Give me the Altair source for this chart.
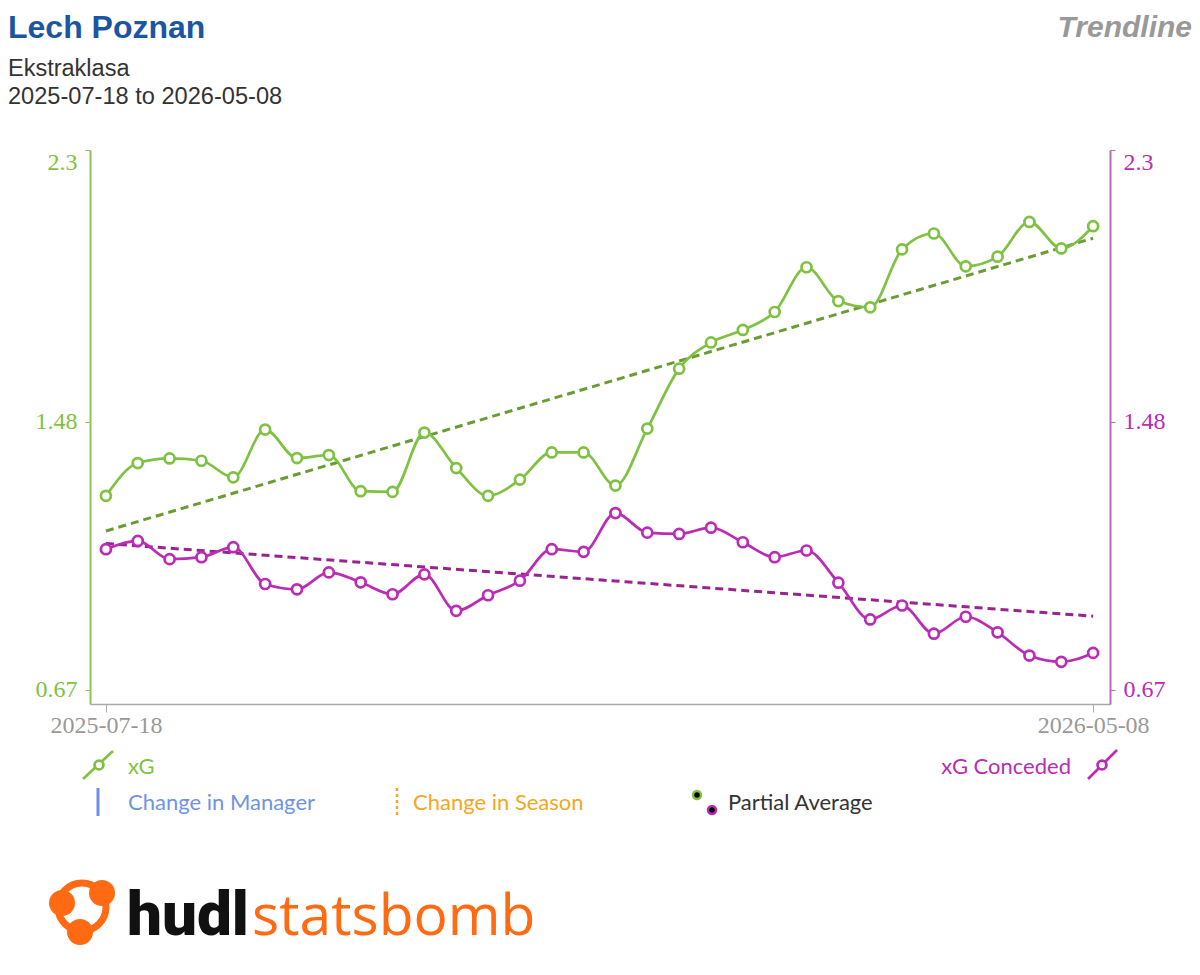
import altair as alt
import pandas as pd

# ---- data ----
match_index = list(range(32))
xg = [1.256, 1.355, 1.369, 1.362, 1.312, 1.456, 1.370, 1.379, 1.270, 1.268,
      1.447, 1.340, 1.256, 1.305, 1.387, 1.387, 1.287, 1.459, 1.640, 1.719,
      1.757, 1.811, 1.946, 1.844, 1.825, 2.000, 2.048, 1.949, 1.978, 2.083,
      2.003, 2.070]
xg_conceded = [1.095, 1.120, 1.065, 1.071, 1.101, 0.990, 0.974, 1.025, 0.995, 0.959,
               1.019, 0.909, 0.956, 1.000, 1.095, 1.087, 1.204, 1.145, 1.141, 1.160,
               1.116, 1.071, 1.091, 0.994, 0.883, 0.925, 0.840, 0.891, 0.844, 0.774,
               0.755, 0.782]
x_tick_values = [0, 31]
x_tick_labels = ["2025-07-18", "2026-05-08"]
y_tick_values = [0.67, 1.48, 2.3]
y_domain = [0.6277, 2.3]

df = pd.DataFrame({"idx": match_index, "xg": xg, "xga": xg_conceded})
one = pd.DataFrame({"k": [0]})

GREEN = "#7fc241"
GREEN_T = "#6b9b33"
MAG = "#bb2bb5"
MAG_T = "#9b2391"

# origin of plot area on the page
OX, OY = 90, 150
def px(v):
    return v - OX
def py(v):
    return v - OY

x_enc = alt.X(
    "idx:Q",
    scale=alt.Scale(domain=[-0.5, 31.53], nice=False, zero=False),
    axis=alt.Axis(
        values=x_tick_values,
        labelExpr=f"datum.value == {x_tick_values[0]} ? '{x_tick_labels[0]}' : '{x_tick_labels[1]}'",
        title=None, grid=False, domainColor="#aaaaaa", tickColor="#aaaaaa",
        tickSize=8, labelColor="#999999", labelFont="Liberation Serif",
        labelFontSize=24, labelPadding=1, labelFlush=False, domainWidth=1.5,
    ),
)

def y_axis(orient, dom_col, lab_col):
    return alt.Axis(
        orient=orient, values=y_tick_values, format=".2~f", title=None, grid=False,
        domainColor=dom_col, tickColor=dom_col, labelColor=lab_col,
        labelFont="Liberation Serif", labelFontSize=24, tickSize=5,
        labelPadding=8, labelFlush=True, labelFlushOffset=0, domainWidth=2,
    )

def series_layer(field, col, tcol, orient, dom_col):
    y_enc = alt.Y(f"{field}:Q",
                  scale=alt.Scale(domain=y_domain, nice=False, zero=False),
                  axis=y_axis(orient, dom_col, col))
    base = alt.Chart(df)
    trend = base.transform_regression("idx", field).mark_line(
        color=tcol, strokeWidth=3, strokeDash=[8, 5]).encode(x=x_enc, y=y_enc)
    line = base.mark_line(color=col, strokeWidth=2.7, interpolate="monotone").encode(x=x_enc, y=y_enc)
    pts = base.mark_point(shape="circle", size=100, filled=True, fill="white",
                          stroke=col, strokeWidth=2.7, opacity=1).encode(x=x_enc, y=y_enc)
    return alt.layer(trend, line, pts)

green_layer = series_layer("xg", GREEN, GREEN_T, "left", "#8dc54f")
mag_layer = series_layer("xga", MAG, MAG_T, "right", "#b86cb3")

def txt(s, x, y, size, color, font="Liberation Sans", weight="normal", style="normal",
        align="left", baseline="alphabetic"):
    return alt.Chart(one).mark_text(
        text=s, fontSize=size, color=color, font=font, fontWeight=weight,
        fontStyle=style, align=align, baseline=baseline,
    ).encode(x=alt.value(px(x)), y=alt.value(py(y)))

def rule(x1, y1, x2, y2, color, width, dash=None):
    kw = dict(color=color, strokeWidth=width)
    if dash:
        kw["strokeDash"] = dash
    return alt.Chart(one).mark_rule(**kw).encode(
        x=alt.value(px(x1)), x2=alt.value(px(x2)),
        y=alt.value(py(y1)), y2=alt.value(py(y2)))

def dot(x, y, size, fill=None, stroke=None, sw=0):
    kw = dict(shape="circle", size=size, opacity=1)
    if fill:
        kw["filled"] = True
        kw["fill"] = fill
    else:
        kw["filled"] = False
        kw["fill"] = "transparent"
    if stroke:
        kw["stroke"] = stroke
        kw["strokeWidth"] = sw
    else:
        kw["strokeWidth"] = 0
    return alt.Chart(one).mark_point(**kw).encode(x=alt.value(px(x)), y=alt.value(py(y)))

LEG_FONT = "Lato"
LEG_SIZE = 22
decor = [
    txt("Lech Poznan", 8, 38, 32, "#1b56a3", weight="bold"),
    txt("Ekstraklasa", 8, 75.5, 23.5, "#333333"),
    txt("2025-07-18 to 2026-05-08", 8, 104, 23.6, "#333333"),
    txt("Trendline", 1192, 37, 30, "#999999", weight="bold", style="italic", align="right"),
    # legend row 1
    rule(83, 779, 113, 751, GREEN, 2.7),
    dot(99, 765, 80, fill="white", stroke=GREEN, sw=2.7),
    txt("xG", 128, 767, LEG_SIZE, GREEN, font=LEG_FONT, baseline="middle"),
    rule(1088, 779, 1117, 750, MAG, 2.7),
    dot(1102, 765, 80, fill="white", stroke=MAG, sw=2.7),
    txt("xG Conceded", 1071, 767, LEG_SIZE, MAG, font=LEG_FONT, align="right", baseline="middle"),
    # legend row 2
    rule(98, 788, 98, 816, "#6b8fe8", 3),
    txt("Change in Manager", 128, 803, LEG_SIZE, "#6f93e8", font=LEG_FONT, baseline="middle"),
    rule(397, 788, 397, 816, "#f5a623", 2.5, dash=[3, 3]),
    txt("Change in Season", 413, 803, LEG_SIZE, "#f5a623", font=LEG_FONT, baseline="middle"),
    dot(697, 795, 110, fill=GREEN),
    dot(697, 795, 30, fill="black"),
    dot(712, 810, 110, fill=MAG),
    dot(712, 810, 30, fill="black"),
    txt("Partial Average", 728, 803, LEG_SIZE, "#333333", font=LEG_FONT, baseline="middle"),
    # logo
    dot(82, 907, 2304, stroke="#ff6a13", sw=7),
    dot(62, 903, 676, fill="#ff6a13"),
    dot(102, 893, 676, fill="#ff6a13"),
    dot(80, 932, 676, fill="#ff6a13"),
    txt("hudl", 127, 935, 62, "#111111", font="Roboto", weight=900),
    txt("statsbomb", 252, 935, 57, "#ff6a13", font="Open Sans"),
]

chart = alt.layer(green_layer, mag_layer, *decor).resolve_scale(y="independent").properties(
    width=1020, height=554,
    autosize=alt.AutoSizeParams(type="none"),
    padding={"left": 82, "top": 142, "right": 82, "bottom": 255},
).configure_view(stroke=None)

chart.save("out.html", embed_options={"renderer": "svg", "actions": False})
